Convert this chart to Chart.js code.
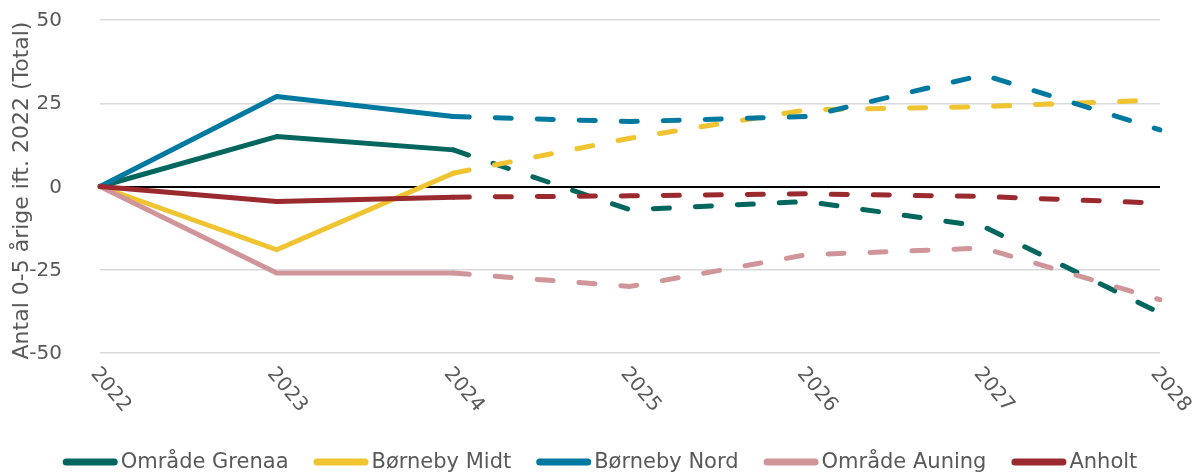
<!DOCTYPE html>
<html>
<head>
<meta charset="utf-8">
<script src="https://cdn.jsdelivr.net/npm/chart.js@4/dist/chart.umd.min.js"></script>
<style>
html,body{margin:0;padding:0;background:#fff;}
#wrap{width:1200px;height:474px;}
</style>
</head>
<body>
<div id="wrap"><canvas id="c" width="1200" height="474"></canvas></div>
<script>
const years = ['2022','2023','2024','2025','2026','2027','2028'];
const grenaa = [0, 15, 11, -7, -4.5, -12, -38];
const midt   = [0, -19, 4, 14.5, 23, 24, 26];
const nord   = [0, 27, 21, 19.5, 21, 33.5, 17];
const auning = [0, -26, -26, -30, -20.5, -18.5, -34];
const anholt = [0, -4.5, -3.2, -2.8, -2.2, -3, -5];
const yTicks = [-50, -25, 0, 25, 50];
const yTitle = 'Antal 0-5 årige ift. 2022 (Total)';

const FONT = '"DejaVu Sans", sans-serif';
const TXT = '#595959';

function ds(label, data, color, order) {
  return {
    label, data, borderColor: color, backgroundColor: color,
    borderWidth: 5, pointRadius: 0, tension: 0, order,
    borderCapStyle: 'round', borderJoinStyle: 'round',
    segment: { borderDash: ctx => ctx.p0DataIndex >= 2 ? [16, 26] : undefined }
  };
}

const axisTextPlugin = {
  id: 'axisText',
  afterDraw(chart) {
    const x = chart.scales.x, y = chart.scales.y, ctx = chart.ctx, a = chart.chartArea;
    ctx.save();
    ctx.fillStyle = TXT;
    // x labels, rotated clockwise
    ctx.font = '20px ' + FONT;
    ctx.textAlign = 'left';
    ctx.textBaseline = 'middle';
    years.forEach((lab, i) => {
      const px = x.getPixelForValue(i);
      ctx.save();
      ctx.translate(px - 2, a.bottom + 22);
      ctx.rotate(50 * Math.PI / 180);
      ctx.fillText(lab, -6, 0);
      ctx.restore();
    });
    // y tick labels
    ctx.textAlign = 'right';
    yTicks.forEach(v => {
      ctx.fillText(String(v), a.left - 38, y.getPixelForValue(v) + 1);
    });
    // y title
    ctx.font = '22px ' + FONT;
    ctx.textAlign = 'center';
    ctx.save();
    ctx.translate(22, (a.top + a.bottom) / 2 + 4);
    ctx.rotate(-Math.PI / 2);
    ctx.fillText(yTitle, 0, 0);
    ctx.restore();
    ctx.restore();
  }
};

const legendPlugin = {
  id: 'customLegend',
  afterDraw(chart) {
    const ctx = chart.ctx;
    const sw = 55, gapBox = 3, gapItem = 25, fs = 21, cy = 462;
    ctx.save();
    ctx.font = fs + 'px ' + FONT;
    ctx.textBaseline = 'middle';
    ctx.textAlign = 'left';
    const items = chart.data.datasets.map(d => ({ label: d.label, color: d.borderColor, w: ctx.measureText(d.label).width }));
    const total = items.reduce((s, it) => s + sw + gapBox + it.w, 0) + gapItem * (items.length - 1);
    let x = (chart.width - total) / 2;
    items.forEach(it => {
      ctx.strokeStyle = it.color;
      ctx.lineWidth = 7;
      ctx.lineCap = 'round';
      ctx.beginPath();
      ctx.moveTo(x + 3.5, cy);
      ctx.lineTo(x + sw - 3.5, cy);
      ctx.stroke();
      ctx.fillStyle = TXT;
      ctx.fillText(it.label, x + sw + gapBox, cy + 1);
      x += sw + gapBox + it.w + gapItem;
    });
    ctx.restore();
  }
};

new Chart(document.getElementById('c'), {
  type: 'line',
  data: {
    labels: years,
    datasets: [
      ds('Område Grenaa', grenaa, '#00665E', 5),
      ds('Børneby Midt', midt, '#F0C330', 4),
      ds('Børneby Nord', nord, '#0079A1', 3),
      ds('Område Auning', auning, '#D09599', 2),
      ds('Anholt', anholt, '#9A2A2E', 1)
    ]
  },
  options: {
    responsive: false,
    animation: false,
    layout: { padding: { left: 100, right: 40, top: 20, bottom: 0 } },
    plugins: {
      legend: { display: false },
      tooltip: { enabled: false }
    },
    scales: {
      x: {
        offset: false,
        grid: { display: false, drawTicks: false },
        border: { display: false },
        ticks: { display: false },
        afterFit(scale) { scale.height = 121; }
      },
      y: {
        min: -50, max: 50,
        afterBuildTicks(scale) { scale.ticks = yTicks.map(v => ({ value: v })); },
        ticks: { display: false },
        grid: {
          drawTicks: false,
          color: c => c.tick && c.tick.value === 0 ? '#000000' : '#D9D9D9',
          lineWidth: c => c.tick && c.tick.value === 0 ? 2 : 1.5
        },
        border: { display: false },
        title: { display: false },
        afterFit(scale) { scale.width = 0; }
      }
    }
  },
  plugins: [axisTextPlugin, legendPlugin]
});
</script>
</body>
</html>
